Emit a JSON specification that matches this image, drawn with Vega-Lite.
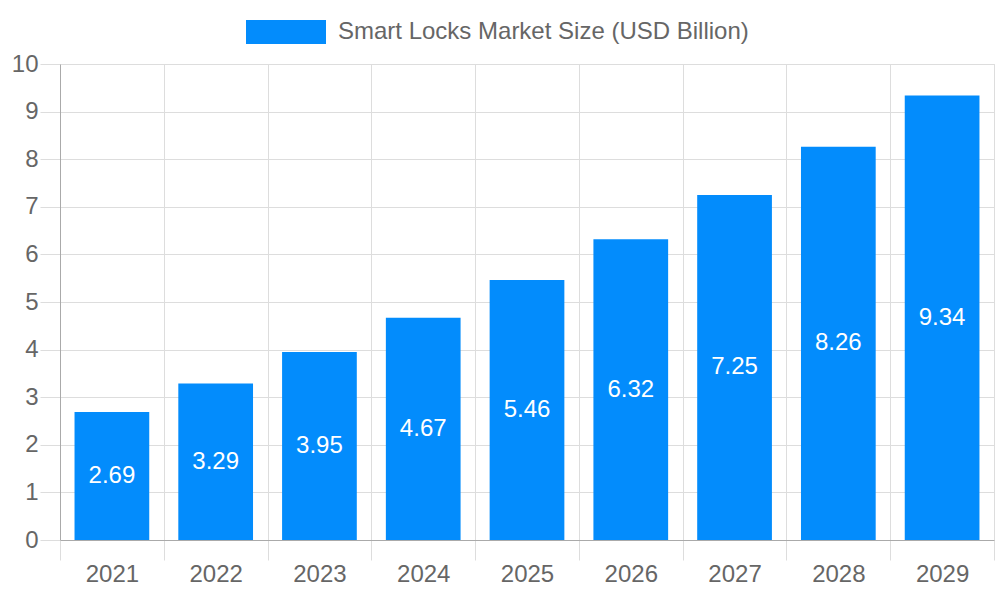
{
  "$schema": "https://vega.github.io/schema/vega-lite/v6.json",
  "width": 934,
  "height": 476,
  "autosize": {"type": "none"},
  "padding": {"left": 60, "top": 64, "right": 6, "bottom": 60},
  "background": "white",
  "config": {
    "font": "Liberation Sans",
    "view": {"stroke": "#dddddd", "strokeWidth": 1},
    "axis": {
      "labelFont": "Liberation Sans",
      "labelColor": "#666666",
      "labelFontSize": 24,
      "gridColor": "#dddddd",
      "gridWidth": 1,
      "tickColor": "#dddddd",
      "tickSize": 20,
      "domainColor": "#aaaaaa",
      "title": null
    }
  },
  "data": {
    "values": [
      {"year": "2021", "value": 2.69, "series": "Smart Locks Market Size (USD Billion)"},
      {"year": "2022", "value": 3.29, "series": "Smart Locks Market Size (USD Billion)"},
      {"year": "2023", "value": 3.95, "series": "Smart Locks Market Size (USD Billion)"},
      {"year": "2024", "value": 4.67, "series": "Smart Locks Market Size (USD Billion)"},
      {"year": "2025", "value": 5.46, "series": "Smart Locks Market Size (USD Billion)"},
      {"year": "2026", "value": 6.32, "series": "Smart Locks Market Size (USD Billion)"},
      {"year": "2027", "value": 7.25, "series": "Smart Locks Market Size (USD Billion)"},
      {"year": "2028", "value": 8.26, "series": "Smart Locks Market Size (USD Billion)"},
      {"year": "2029", "value": 9.34, "series": "Smart Locks Market Size (USD Billion)"}
    ]
  },
  "encoding": {
    "x": {
      "field": "year",
      "type": "ordinal",
      "scale": {"paddingInner": 0, "paddingOuter": 0},
      "axis": {"labelAngle": 0, "tickBand": "extent", "grid": true, "labelPadding": 2}
    }
  },
  "layer": [
    {
      "mark": {"type": "bar", "color": "#038cfc", "width": {"band": 0.72}},
      "encoding": {
        "y": {
          "field": "value",
          "type": "quantitative",
          "scale": {"domain": [0, 10], "nice": false},
          "axis": {"values": [0,1,2,3,4,5,6,7,8,9,10], "grid": true, "labelPadding": 2, "labelOverlap": false}
        },
        "color": {
          "field": "series",
          "type": "nominal",
          "scale": {"range": ["#038cfc"]},
          "legend": {
            "orient": "none",
            "legendX": 186,
            "legendY": -72,
            "title": null,
            "padding": 0,
            "symbolType": "M-1,-0.3H1V0.3H-1Z",
            "symbolSize": 6400,
            "symbolStrokeWidth": 0,
            "symbolOpacity": 1,
            "labelFont": "Liberation Sans",
            "labelFontSize": 24,
            "labelColor": "#666666",
            "labelOffset": 12,
            "labelLimit": 700
          }
        }
      }
    },
    {
      "mark": {"type": "text", "color": "white", "fontSize": 24, "font": "Liberation Sans", "baseline": "middle"},
      "encoding": {
        "y": {
          "field": "value",
          "type": "quantitative",
          "scale": {"domain": [0, 20], "nice": false},
          "axis": null
        },
        "text": {"field": "value", "type": "quantitative", "format": ".2f"}
      }
    }
  ],
  "resolve": {"scale": {"y": "independent"}}
}
